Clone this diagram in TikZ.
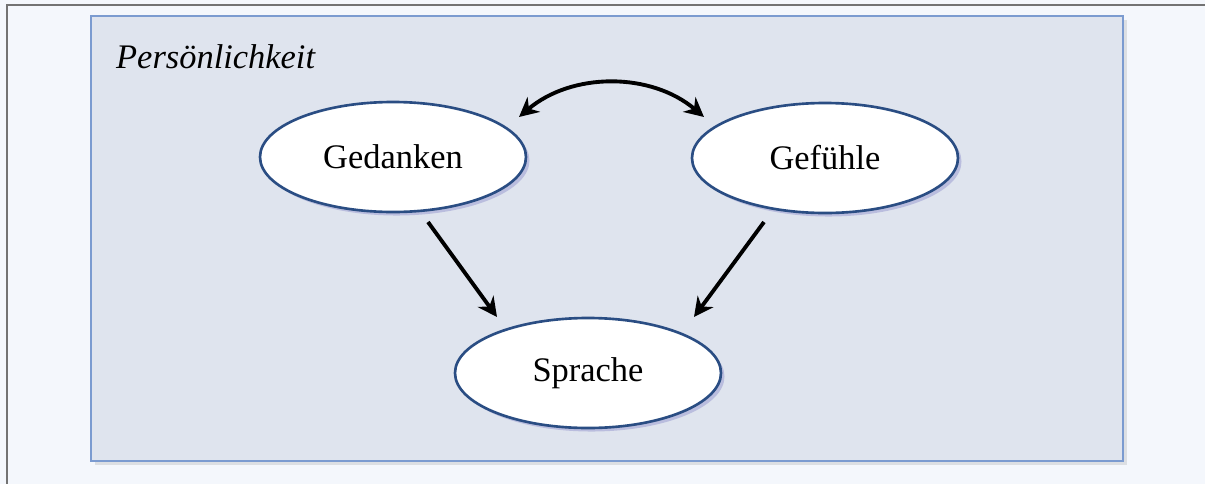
\documentclass[tikz,border=0pt]{standalone}
\usepackage{fontspec}
\setmainfont{Liberation Serif}
\usetikzlibrary{shapes.geometric,shadows,arrows.meta}
\definecolor{pagebg}{HTML}{F4F7FC}
\definecolor{boxfill}{HTML}{DFE4EE}
\definecolor{boxline}{HTML}{7B9BD0}
\definecolor{ovalline}{HTML}{2A4D83}
\begin{document}
\begin{tikzpicture}[x=0.02cm,y=-0.02cm]

      \tikzset{oval/.style={draw=ovalline, line width=1.5pt, ellipse, fill=white, minimum width=266*0.02cm, minimum height=110*0.02cm, inner sep=0pt, font=\fontsize{19.6}{23}\selectfont, drop shadow={shadow xshift=2pt, shadow yshift=-2pt, fill=black!45!blue!60, opacity=0.3}}}
      \tikzset{link/.style={line width=2.2pt, -{Stealth[length=11pt, width=11pt]}}}
% Background
      	\useasboundingbox (0,0) rectangle (1205,484);
      	\fill[pagebg] (0,0) rectangle (1205,484);
      	\draw[black!55, line width=0.6pt] (7,490) -- (7,5) -- (1210,5);
      	\node[draw=boxline, line width=1.5pt, fill=boxfill, rectangle, inner sep=0pt, minimum width=1032*0.02cm, minimum height=445*0.02cm, drop shadow={shadow xshift=2pt, shadow yshift=-2pt, opacity=0.2}] (frame) at (607,238.5) {};
      	\node[anchor=west, font=\fontsize{19.6}{23}\selectfont\itshape] (title) at (110,57) {Persönlichkeit};
% Vertices
      	\node[oval] (ged) at (393,157) {Gedanken};
      	\node[oval] (gef) at (825,158) {Gefühle};
      	\node[oval] (spr) at (588,373) {Sprache};
% Edges
		\coordinate (a1) at (428,222);
		\coordinate (a2) at (497,317);
		\coordinate (b1) at (764,222);
		\coordinate (b2) at (694,317);
		\coordinate (c1) at (519,117);
		\coordinate (c2) at (704,117);
		\draw[link] (a1) -- (a2);
		\draw[link] (b1) -- (b2);
		\draw[link, {Stealth[length=11pt, width=11pt]}-{Stealth[length=11pt, width=11pt]}] (c1) .. controls (572,72) and (651,72) .. (c2);

	\end{tikzpicture}
\end{document}
